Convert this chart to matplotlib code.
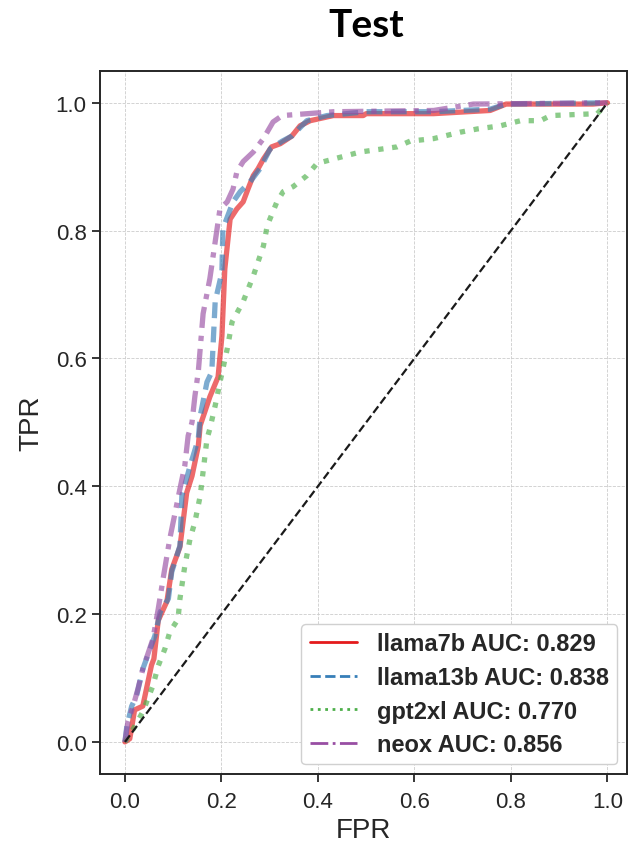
import numpy as np
import matplotlib.pyplot as plt
import seaborn as sns
from matplotlib.lines import Line2D

# ROC curves
fpr_llama7b = [0.0, 0.01, 0.02, 0.037, 0.055, 0.06, 0.069, 0.087, 0.097, 0.114, 0.128, 0.139, 0.152, 0.156,
               0.176, 0.193, 0.201, 0.207, 0.218, 0.232, 0.245, 0.255, 0.266, 0.276, 0.287, 0.304, 0.322,
               0.346, 0.363, 0.384, 0.432, 0.494, 0.5, 0.64, 0.757, 0.79, 0.97, 1.0]
tpr_llama7b = [0.0, 0.005, 0.05, 0.056, 0.12, 0.13, 0.19, 0.22, 0.27, 0.305, 0.39, 0.416, 0.463, 0.495,
               0.54, 0.571, 0.635, 0.74, 0.818, 0.834, 0.845, 0.865, 0.886, 0.897, 0.912, 0.931, 0.936,
               0.948, 0.964, 0.972, 0.98, 0.98, 0.983, 0.983, 0.988, 0.998, 0.998, 1.0]

fpr_llama13b = [0.0, 0.004, 0.014, 0.024, 0.037, 0.062, 0.073, 0.09, 0.097, 0.114, 0.118, 0.135, 0.152,
                0.156, 0.17, 0.18, 0.187, 0.201, 0.203, 0.224, 0.239, 0.259, 0.28, 0.301, 0.326, 0.346,
                0.377, 0.419, 0.5, 0.64, 0.757, 0.79, 1.0]
tpr_llama13b = [0.0, 0.025, 0.056, 0.072, 0.114, 0.166, 0.203, 0.224, 0.266, 0.307, 0.385, 0.432, 0.474,
                0.51, 0.563, 0.579, 0.689, 0.735, 0.803, 0.845, 0.861, 0.876, 0.897, 0.928, 0.94, 0.948,
                0.972, 0.98, 0.986, 0.986, 0.99, 0.998, 1.0]

fpr_gpt2xl = [0.0, 0.017, 0.037, 0.058, 0.069, 0.083, 0.093, 0.11, 0.114, 0.124, 0.135, 0.145, 0.156,
              0.162, 0.17, 0.176, 0.187, 0.197, 0.212, 0.222, 0.245, 0.266, 0.287, 0.295, 0.315, 0.328,
              0.349, 0.377, 0.398, 0.432, 0.488, 0.564, 0.591, 0.64, 0.695, 0.73, 0.778, 0.82, 0.861,
              0.882, 0.979, 1.0]
tpr_gpt2xl = [0.0, 0.02, 0.047, 0.088, 0.119, 0.146, 0.172, 0.192, 0.224, 0.275, 0.318, 0.344, 0.385,
              0.423, 0.474, 0.49, 0.526, 0.563, 0.615, 0.657, 0.689, 0.729, 0.776, 0.808, 0.845, 0.861,
              0.869, 0.886, 0.905, 0.912, 0.923, 0.931, 0.94, 0.944, 0.954, 0.959, 0.964, 0.972, 0.972,
              0.98, 0.983, 1.0]

fpr_neox = [0.0, 0.006, 0.017, 0.027, 0.037, 0.058, 0.069, 0.079, 0.093, 0.1, 0.114, 0.124, 0.131, 0.139,
            0.145, 0.152, 0.162, 0.176, 0.19, 0.197, 0.212, 0.224, 0.232, 0.245, 0.266, 0.287, 0.307,
            0.326, 0.432, 0.64, 0.722, 1.0]
tpr_neox = [0.0, 0.031, 0.056, 0.083, 0.114, 0.161, 0.208, 0.255, 0.318, 0.344, 0.396, 0.432, 0.479, 0.5,
            0.541, 0.579, 0.67, 0.725, 0.798, 0.834, 0.845, 0.865, 0.892, 0.908, 0.923, 0.944, 0.97,
            0.98, 0.986, 0.988, 0.998, 1.0]

models = ['llama7b', 'llama13b', 'gpt2xl', 'neox']
aucs = [0.829, 0.838, 0.770, 0.856]
curves = [(fpr_llama7b, tpr_llama7b), (fpr_llama13b, tpr_llama13b),
          (fpr_gpt2xl, tpr_gpt2xl), (fpr_neox, tpr_neox)]
colors = ['#e41a1c', '#377eb8', '#4daf4a', '#984ea3']
styles = ['-', (0, (3, 1.6)), ':', (0, (4, 1.5, 1, 1.5))]
legend_styles = ['-', '--', ':', '-.']

#%%
sns.set_theme(style='ticks')
plt.rcParams['font.family'] = ['Liberation Sans', 'DejaVu Sans']

fig = plt.figure(figsize=(6.28, 8.45), dpi=100)
ax = fig.add_axes([0.159, 0.083, 0.839, 0.832])

for (fpr, tpr), c, ls in zip(curves, colors, styles):
    ax.plot(fpr, tpr, color=c, linestyle=ls, linewidth=3.8, alpha=0.65)
ax.plot([0, 1], [0, 1], color='k', linestyle='--', linewidth=1.6)

ax.grid(True, linestyle='--', linewidth=0.6, color='#cccccc')
ax.set_xlim(-0.052, 1.04)
ax.set_ylim(-0.05, 1.05)
ax.set_xticks(np.arange(0, 1.01, 0.2))
ax.set_yticks(np.arange(0, 1.01, 0.2))
ax.tick_params(labelsize=16, width=1.3, length=6, colors='#262626')
ax.tick_params(axis='x', pad=6)
for s in ax.spines.values():
    s.set_color('#262626')
    s.set_linewidth(1.4)
ax.set_xlabel('FPR', fontsize=20, labelpad=4)
ax.set_ylabel('TPR', fontsize=20, labelpad=8)

handles = [Line2D([], [], color=c, linestyle=ls, linewidth=2) for c, ls in zip(colors, legend_styles)]
labels = ['%s AUC: %.3f' % (m, a) for m, a in zip(models, aucs)]
leg = ax.legend(handles, labels, loc='lower right', prop={'size': 17, 'weight': 'bold'},
                handlelength=2.0, handletextpad=0.85, borderpad=0.35, labelspacing=0.45,
                borderaxespad=0.4, fancybox=True, framealpha=1.0)
leg.get_frame().set_edgecolor('#d0d0d0')

fig.text(0.583, 1 - 37/845, 'Test', ha='center', va='baseline', fontsize=28,
         fontweight='bold', family='Lato', color='black')

fig.savefig('out.png', dpi=100)
